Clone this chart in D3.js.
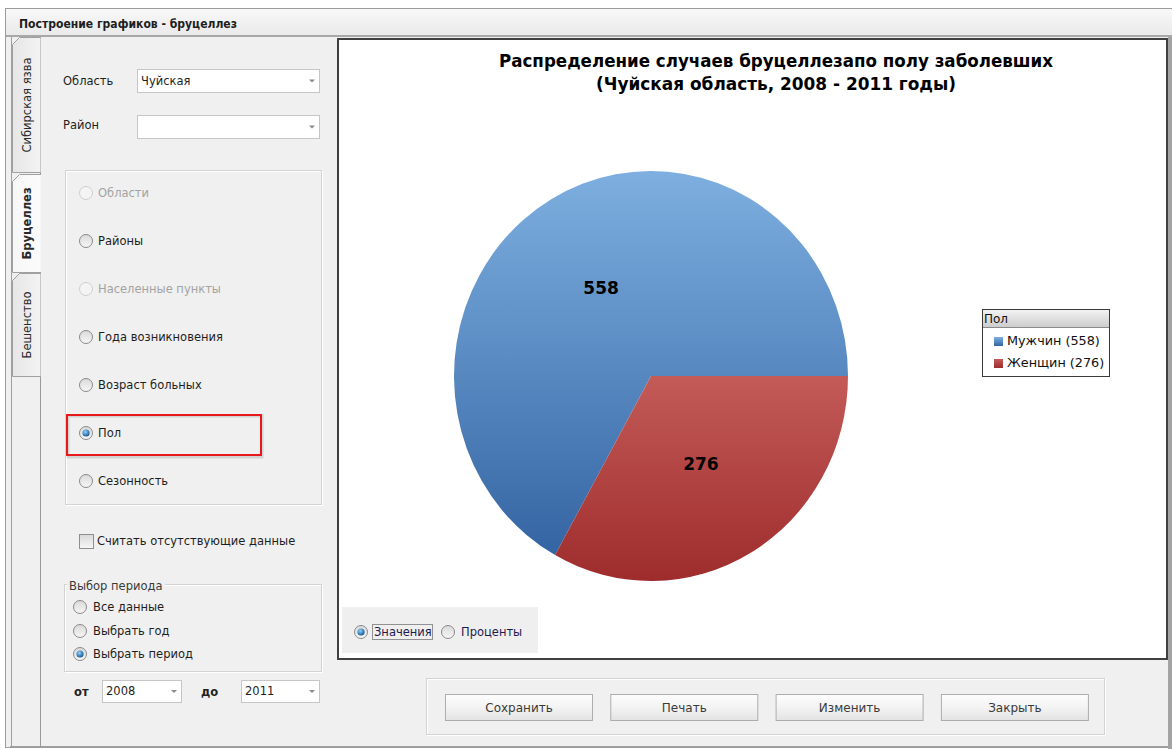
<!DOCTYPE html>
<html><head><meta charset="utf-8">
<script src="https://cdn.jsdelivr.net/npm/d3@7"></script>
<style>body{margin:0;background:#fff;overflow:hidden} text{font-family:"DejaVu Sans",sans-serif}</style>
</head><body><svg id="c" width="1172" height="749"></svg>
<script>
// ---- data ----
const categories = ["Мужчин", "Женщин"];
const values = [558, 276];
const legendTitle = "Пол";
const chartTitle = ["Распределение случаев бруцеллезапо полу заболевших", "(Чуйская область, 2008 - 2011 годы)"];
const windowTitle = "Построение графиков - бруцеллез";
const tabs = ["Сибирская язва", "Бруцеллез", "Бешенство"];
const groupOptions = ["Области", "Районы", "Населенные пункты", "Года возникновения", "Возраст больных", "Пол", "Сезонность"];
const groupDisabled = [true, false, true, false, false, false, false];
const groupChecked = "Пол";
const periodOptions = ["Все данные", "Выбрать год", "Выбрать период"];
const periodChecked = "Выбрать период";
const buttons = ["Сохранить", "Печать", "Изменить", "Закрыть"];
const modeOptions = ["Значения", "Проценты"];
const fieldLabels = ["Область", "Район"];
const fieldValues = ["Чуйская", ""];
const yearFrom = "2008", yearTo = "2011";

const svg = d3.select("#c");
const defs = svg.append("defs");
function lin(id, stops, vertical = true) {
  const g = defs.append("linearGradient").attr("id", id)
    .attr("x1", 0).attr("y1", 0).attr("x2", vertical ? 0 : 1).attr("y2", vertical ? 1 : 0);
  stops.forEach(([o, c]) => g.append("stop").attr("offset", o).attr("stop-color", c));
}
lin("gTitle", [[0, "#f8f8f8"], [1, "#eaeaea"]]);
lin("gBtn", [[0, "#fdfdfd"], [0.5, "#f3f3f3"], [1, "#e3e3e3"]]);
lin("gTab", [[0, "#e6e6e6"], [1, "#f3f3f3"]], false);
lin("gTabSel", [[0, "#f7f7f7"], [1, "#fbfbfb"]], false);
lin("gRadio", [[0, "#d9d9d9"], [1, "#f7f7f7"]]);
lin("gLegHead", [[0, "#f2f2f2"], [1, "#cdcdcd"]]);
lin("gBlue", [[0, "#7eafe0"], [1, "#3465a3"]]);
lin("gRed", [[0, "#c35b58"], [1, "#9e2c2c"]]);
const rg = defs.append("radialGradient").attr("id", "gDot").attr("cx", 0.4).attr("cy", 0.35).attr("r", 0.7);
rg.append("stop").attr("offset", 0).attr("stop-color", "#8fd3ff");
rg.append("stop").attr("offset", 1).attr("stop-color", "#0d4f8c");

const colors = ["url(#gBlue)", "url(#gRed)"];

// ---- window frame ----
svg.append("rect").attr("x", 5.5).attr("y", 8.5).attr("width", 1180).attr("height", 739)
  .attr("fill", "#f0f0f0").attr("stroke", "#9c9c9c");
svg.append("rect").attr("x", 6).attr("y", 9).attr("width", 1170).attr("height", 26).attr("fill", "url(#gTitle)");
svg.append("line").attr("x1", 6).attr("x2", 1172).attr("y1", 36).attr("y2", 36).attr("stroke", "#a8a8a8").attr("stroke-width", 2);
svg.append("text").attr("x", 19).attr("y", 28).attr("font-size", 12).attr("font-weight", "bold")
  .attr("fill", "#1e1e1e").attr("textLength", 218).attr("lengthAdjust", "spacingAndGlyphs").text(windowTitle);
svg.append("rect").attr("x", 1168).attr("y", 37).attr("width", 4).attr("height", 712).attr("fill", "#a3a3a3");

// left tab control frame
svg.append("line").attr("x1", 11.5).attr("x2", 11.5).attr("y1", 37).attr("y2", 747).attr("stroke", "#a0a0a0");
svg.append("line").attr("x1", 10).attr("x2", 1168).attr("y1", 746.5).attr("y2", 746.5).attr("stroke", "#a0a0a0");
svg.append("line").attr("x1", 40.5).attr("x2", 40.5).attr("y1", 37).attr("y2", 747).attr("stroke", "#9a9a9a");

// tabs
const tabBoxes = [[37, 173], [174, 273], [273, 377]];
tabs.forEach((t, i) => {
  const [y0, y1] = tabBoxes[i];
  const sel = i === 1;
  const x0 = 12.5, x1 = sel ? 41 : 40.5;
  const p = `M${x1},${y0 + 0.5} L${x0 + 7},${y0 + 0.5} L${x0},${y0 + 7.5} L${x0},${y1 - 0.5} L${x1},${y1 - 0.5}`;
  svg.append("path").attr("d", p + "Z").attr("fill", sel ? "url(#gTabSel)" : "url(#gTab)").attr("stroke", "none");
  svg.append("path").attr("d", p).attr("fill", "none").attr("stroke", "#a0a0a0");
  const cy = (y0 + y1) / 2;
  svg.append("text").attr("transform", `translate(27,${cy}) rotate(-90)`).attr("text-anchor", "middle")
    .attr("dy", "0.35em").attr("font-size", 11.5).attr("font-weight", sel ? "bold" : "normal")
    .attr("fill", "#2a2a2a").text(t);
});
svg.append("line").attr("x1", 40.5).attr("x2", 40.5).attr("y1", 176).attr("y2", 272).attr("stroke", "#f7f7f7");

// helpers
function radio(g, cx, cy, checked, disabled) {
  g.append("circle").attr("cx", cx).attr("cy", cy).attr("r", 6.5)
    .attr("fill", disabled ? "#f4f4f4" : "url(#gRadio)").attr("stroke", disabled ? "#cfcfcf" : "#8a8a8a");
  if (checked) g.append("circle").attr("cx", cx).attr("cy", cy).attr("r", 3.6).attr("fill", "url(#gDot)");
}
function label(x, y, t, opts = {}) {
  return svg.append("text").attr("x", x).attr("y", y).attr("dy", "0.35em")
    .attr("font-size", opts.size || 11.5).attr("fill", opts.color || "#1e1e1e")
    .attr("text-anchor", opts.anchor || "start").attr("font-weight", opts.weight || "normal").text(t);
}
function combo(x, y, w, h, val) {
  svg.append("rect").attr("x", x + 0.5).attr("y", y + 0.5).attr("width", w).attr("height", h)
    .attr("fill", "#fff").attr("stroke", "#c6c6c6");
  svg.append("path").attr("d", `M${x + w - 10},${y + h / 2 - 1} h6 l-3,3z`).attr("fill", "#8a8a8a");
  if (val) label(x + 4, y + h / 2, val);
}
function groupBox(x, y, w, h) {
  svg.append("rect").attr("x", x + 1.5).attr("y", y + 1.5).attr("width", w).attr("height", h)
    .attr("fill", "none").attr("stroke", "#ffffff");
  svg.append("rect").attr("x", x + 0.5).attr("y", y + 0.5).attr("width", w).attr("height", h)
    .attr("fill", "none").attr("stroke", "#d3d3d3");
}

// fields
label(63, 81, fieldLabels[0]);
combo(137, 69, 182, 23, fieldValues[0]);
label(63, 125, fieldLabels[1]);
combo(137, 115, 182, 23, fieldValues[1]);

// grouping radios
groupBox(65, 170, 256, 334);
const gy = [193, 241, 289, 337, 385, 433, 481];
const rgp = svg.append("g");
groupOptions.forEach((o, i) => {
  radio(rgp, 86, gy[i], o === groupChecked, groupDisabled[i]);
  label(98, gy[i], o, { color: groupDisabled[i] ? "#a3a3a3" : "#1e1e1e" });
});
// red highlight
svg.append("rect").attr("x", 68).attr("y", 416).attr("width", 194).attr("height", 41)
  .attr("fill", "none").attr("stroke", "#000").attr("stroke-opacity", 0.12).attr("stroke-width", 3);
svg.append("rect").attr("x", 67).attr("y", 415).attr("width", 194).attr("height", 40)
  .attr("fill", "none").attr("stroke", "#e8181c").attr("stroke-width", 2);

// checkbox
svg.append("rect").attr("x", 79.5).attr("y", 534.5).attr("width", 14).attr("height", 14)
  .attr("fill", "url(#gRadio)").attr("stroke", "#8e8e8e");
label(97, 541, "Считать отсутствующие данные");

// period group
groupBox(64, 584, 257, 87);
svg.append("rect").attr("x", 67).attr("y", 580).attr("width", 98).attr("height", 10).attr("fill", "#f0f0f0");
label(69, 586, "Выбор периода", { color: "#3a3a3a" });
const py = [607, 631, 654];
const rpp = svg.append("g");
periodOptions.forEach((o, i) => {
  radio(rpp, 80, py[i], o === periodChecked, false);
  label(93, py[i], o);
});
label(74, 692, "от", { weight: "bold", color: "#222" });
combo(102, 680, 79, 22, yearFrom);
label(201, 692, "до", { weight: "bold", color: "#222" });
combo(241, 680, 78, 22, yearTo);

// ---- chart panel ----
svg.append("rect").attr("x", 338).attr("y", 39).attr("width", 829).attr("height", 620)
  .attr("fill", "#fff").attr("stroke", "#404040").attr("stroke-width", 2);

const titleWidths = [554, 360];
chartTitle.forEach((t, i) => {
  svg.append("text").attr("x", 776).attr("y", 67 + i * 23).attr("text-anchor", "middle")
    .attr("font-size", 18.5).attr("font-weight", "bold").attr("fill", "#000")
    .style("font-family", "'DejaVu Sans Condensed','DejaVu Sans',sans-serif")
    .attr("textLength", titleWidths[i]).attr("lengthAdjust", "spacingAndGlyphs").text(t);
});

// pie
const cx = 651, cy = 376, ry = 205, rx = 197, sx = rx / ry;
const pie = d3.pie().sort(null).startAngle(Math.PI / 2).endAngle(Math.PI / 2 - 2 * Math.PI);
const arcs = pie(values);
const arc = d3.arc().innerRadius(0).outerRadius(ry);
const pg = svg.append("g").attr("transform", `translate(${cx},${cy}) scale(${sx},1)`);
pg.selectAll("path").data(arcs).join("path").attr("d", arc).attr("fill", (d, i) => colors[i]);
const lbl = d3.arc().innerRadius(0).outerRadius(ry);
svg.append("g").selectAll("text").data(arcs).join("text")
  .attr("x", d => cx + lbl.centroid(d)[0] * sx).attr("y", d => cy + lbl.centroid(d)[1])
  .attr("dy", "0.36em").attr("text-anchor", "middle").attr("font-size", 17).attr("font-weight", "bold")
  .attr("fill", "#000").text(d => d.data);

// legend
const lg = svg.append("g");
lg.append("rect").attr("x", 982.5).attr("y", 309.5).attr("width", 127).attr("height", 67).attr("fill", "#fff").attr("stroke", "#3a3a3a");
lg.append("rect").attr("x", 983).attr("y", 310).attr("width", 126).attr("height", 17).attr("fill", "url(#gLegHead)");
lg.append("line").attr("x1", 983).attr("x2", 1109).attr("y1", 327.5).attr("y2", 327.5).attr("stroke", "#8a8a8a");
lg.append("text").attr("x", 984).attr("y", 318.5).attr("dy", "0.35em").attr("font-size", 12).attr("fill", "#111").text(legendTitle);
categories.forEach((c, i) => {
  const y = 341 + i * 22;
  lg.append("rect").attr("x", 994).attr("y", y - 4).attr("width", 9).attr("height", 9).attr("fill", colors[i]);
  lg.append("text").attr("x", 1007).attr("y", y).attr("dy", "0.35em").attr("font-size", 12.8).attr("fill", "#111")
    .text(`${c} (${values[i]})`);
});

// mode radios box
svg.append("rect").attr("x", 342).attr("y", 607).attr("width", 196).attr("height", 46).attr("fill", "#efefef");
const rm = svg.append("g");
radio(rm, 361, 632, true, false);
svg.append("rect").attr("x", 372.5).attr("y", 624.5).attr("width", 60).attr("height", 15)
  .attr("fill", "none").attr("stroke", "#333").attr("stroke-dasharray", "1,1");
label(374, 632, modeOptions[0], { color: "#1b1b50" });
radio(rm, 448, 632, false, false);
label(461, 632, modeOptions[1], { color: "#1b1b50" });

// bottom buttons
groupBox(426, 678, 678, 56);
buttons.forEach((b, i) => {
  const x = 445 + i * 165.3;
  svg.append("rect").attr("x", x + 0.5).attr("y", 694.5).attr("width", 147).attr("height", 26)
    .attr("fill", "url(#gBtn)").attr("stroke", "#adadad");
  label(x + 74, 708, b, { anchor: "middle", color: "#3a3a3a", size: 12 });
});
</script></body></html>
